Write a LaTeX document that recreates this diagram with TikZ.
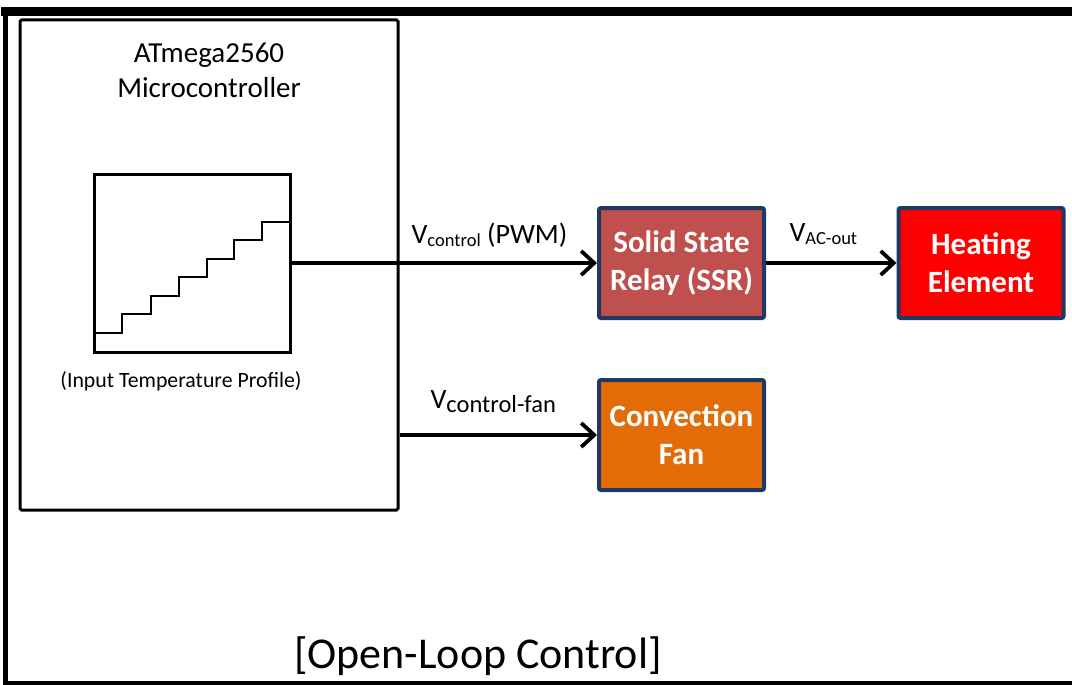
\documentclass[tikz,border=0pt]{standalone}
\usepackage{fontspec}
\setmainfont{Carlito}
\usetikzlibrary{arrows.meta}
\newcommand{\sub}[1]{\raisebox{-0.25ex}{\fontsize{18.5}{22}\selectfont #1}}
\begin{document}
\begin{tikzpicture}[x=1pt,y=-1pt,
  block/.style={draw=blockedge, line width=4pt, rounded corners=2pt, minimum width=165pt, minimum height=110pt,
    text=white, font=\fontsize{31}{38}\selectfont\bfseries, align=center},
  sig/.style={line width=3.8pt, -{Straight Barb[length=13pt,width=24pt]}},
  lbl/.style={font=\fontsize{28}{32}\selectfont, anchor=base west}]
\definecolor{blockedge}{HTML}{1F3864}
\definecolor{ssrfill}{HTML}{C0504D}
\definecolor{fanfill}{HTML}{E36C09}
\useasboundingbox (0,0) rectangle (1072,685);
% outer frame (left, top and bottom edges)
\draw[line width=5pt] (5.5,683) -- (5.5,12);
\draw[line width=9pt] (1,12) -- (1072,12);
\draw[line width=4pt] (3,683) -- (1072,683);
% microcontroller
\node[draw, line width=3pt, rounded corners=1.5pt, minimum width=378pt, minimum height=490pt] (mcu) at (209,265) {};
\node[font=\fontsize{29}{35}\selectfont, align=center] (mcut) at (209,70) {ATmega2560\\Microcontroller};
% temperature profile
\node[draw, line width=3pt, minimum width=196pt, minimum height=178pt, inner sep=0pt] (prof) at (192,263) {};
\draw[line width=2.2pt] (prof.west |- 0,333) -- (122,333) -- (122,314) -- (151,314) -- (151,296) -- (179,296)
  -- (179,277) -- (207,277) -- (207,259) -- (234,259) -- (234,240) -- (262,240) -- (262,222) -- (prof.east |- 0,222);
\node[font=\fontsize{21.8}{26}\selectfont] (proft) at (181,381) {(Input Temperature Profile)};
% actuators
\node[block, fill=ssrfill] (ssr) at (681.5,263) {Solid State\\Relay (SSR)};
\node[block, fill=red] (heat) at (981,263) {Heating\\Element};
\node[block, fill=fanfill] (fan) at (681.5,435) {Convection\\Fan};
% signals
\draw[sig] (prof.east |- ssr.west) -- (ssr.west);
\draw[sig] (ssr.east) -- (heat.west);
\draw[sig] (mcu.east |- fan.west) -- (fan.west);
\node[lbl] (l1) at (408,243) {V\sub{control} (PWM)};
\node[lbl] (l2) at (786,241) {V\sub{AC-out}};
\node[lbl] (l3) at (427,408) {V\raisebox{-0.3ex}{\fontsize{24.5}{28}\selectfont control-fan}};
% title
\node[font=\fontsize{44}{50}\selectfont] (title) at (478,656) {[Open-Loop Control]};
\end{tikzpicture}
\end{document}
